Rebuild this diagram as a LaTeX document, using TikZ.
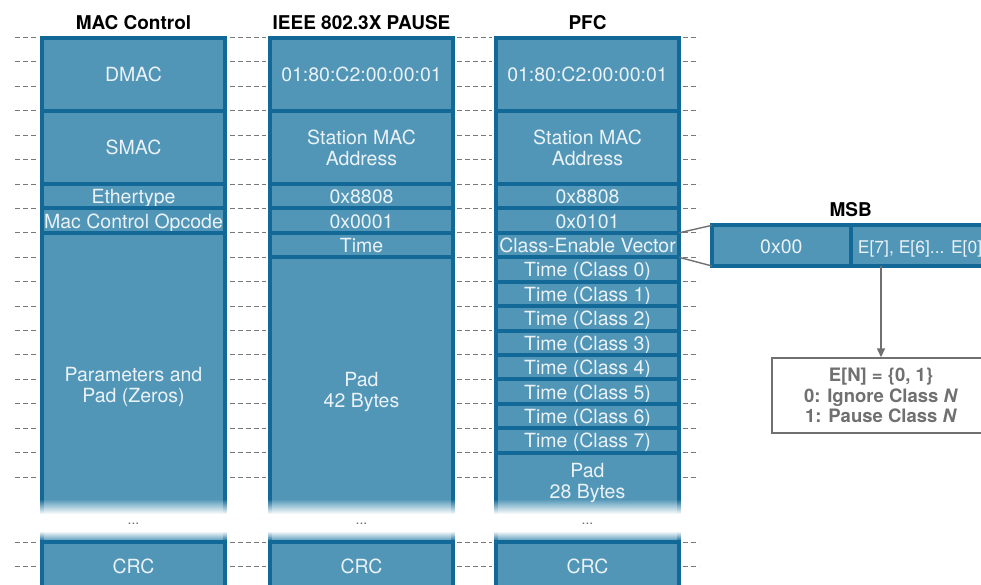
\documentclass[tikz,border=0pt]{standalone}
\usepackage{fontspec}
\setmainfont{TeX Gyre Heros}
\usetikzlibrary{positioning, arrows.meta, fadings}

\definecolor{fieldfill}{RGB}{81,150,183}
\definecolor{fieldline}{RGB}{18,104,150}
\definecolor{fieldtext}{RGB}{234,242,247}
\definecolor{gridgray}{RGB}{120,120,120}
\definecolor{notegray}{RGB}{112,112,112}

\tikzfading[name=fadein, top color=transparent!100, bottom color=transparent!0]
\tikzfading[name=fadeout, top color=transparent!0, bottom color=transparent!100]

\tikzset{
    cell/.style={draw=fieldline, fill=fieldfill, line width=4pt, text=fieldtext,
        minimum width=183pt, inner sep=0pt, outer sep=0pt, align=center,
        font=\fontsize{19.5}{21}\selectfont},
    field/.style={cell, text height=15pt, text depth=0pt},
    span/.style={minimum height=#1*24.42pt},
    cellnote/.style={text=fieldtext, inner sep=0pt, align=center,
        font=\fontsize{19.5}{21}\selectfont},
    coltitle/.style={inner sep=0pt, outer sep=0pt, font=\fontsize{19}{21}\selectfont\bfseries},
    gridline/.style={draw=gridgray, line width=1pt, dash pattern=on 5pt off 3pt},
    gap/.style={text=notegray, inner sep=0pt, font=\fontsize{14}{16}\selectfont},
    conn/.style={draw=notegray, line width=1.4pt},
    notebox/.style={draw=notegray, line width=1.4pt, fill=white, text=notegray, align=center,
        minimum width=218pt, minimum height=75pt, inner sep=0pt,
        font=\fontsize{18.5}{20.5}\selectfont\bfseries},
}

% one row of the dashed grid
\newcommand{\GridRow}[1]{%
    \draw[gridline] (15,#1) -- (38,#1);
    \draw[gridline] (230,#1) -- (266,#1);
    \draw[gridline] (457,#1) -- (492,#1);
    \draw[gridline] (683,#1) -- (699,#1);
}

\begin{document}
\begin{tikzpicture}[x=1pt, y=-1pt]
    \useasboundingbox (0,0) rectangle (981,584);
    \clip (0,0) rectangle (981,584);

    % Grid rows
    \foreach \n in {0,...,18} {
        \pgfmathsetmacro\yy{floor(37.5+\n*24.42)+0.5}
        \GridRow{\yy}
    }
    \GridRow{542.5}
    \GridRow{566.5}

    % MAC Control
    \node[field, span=3, anchor=north west] (dmacA) at (42,37.5) {DMAC};
    \node[field, span=3, below=0pt of dmacA] (smacA) {SMAC};
    \node[field, span=1, below=0pt of smacA] (ethA) {Ethertype};
    \node[field, span=1, below=0pt of ethA] (opA) {Mac Control Opcode};
    \node[field, minimum height=309.1pt, below=0pt of opA] (padA) {};
    \node[cellnote, below=134pt of padA.north] (padtxtA) {Parameters and\\Pad (Zeros)};

    % IEEE 802.3X PAUSE
    \node[field, span=3, anchor=north west] (dmacB) at (270,37.5) {01:80:C2:00:00:01};
    \node[cell, span=3, below=0pt of dmacB] (smacB) {Station MAC\\Address};
    \node[field, span=1, below=0pt of smacB] (ethB) {0x8808};
    \node[field, span=1, below=0pt of ethB] (opB) {0x0001};
    \node[field, span=1, below=0pt of opB] (timeB) {Time};
    \node[field, minimum height=284.7pt, below=0pt of timeB] (padB) {};
    \node[cellnote, below=115pt of padB.north] (padtxtB) {Pad\\42 Bytes};

    % PFC
    \node[field, span=3, anchor=north west] (dmacC) at (496,37.5) {01:80:C2:00:00:01};
    \node[cell, span=3, below=0pt of dmacC] (smacC) {Station MAC\\Address};
    \node[field, span=1, below=0pt of smacC] (ethC) {0x8808};
    \node[field, span=1, below=0pt of ethC] (opC) {0x0101};
    \node[field, span=1, below=0pt of opC] (cevC) {Class-Enable Vector};
    \foreach \k in {0,...,7}
        \node[field, span=1, anchor=north west] (timeC\k) at (496,{37.5+(9+\k)*24.42}) {Time (Class \k)};
    \node[field, minimum height=89.36pt, below=0pt of timeC7] (padC) {};
    \node[cellnote, below=10.5pt of padC.north] (padtxtC) {Pad\\28 Bytes};

    % fade out the long fields
    \foreach \xl in {42,270,496} {
        \fill[white, path fading=fadein] (\xl-3,499) rectangle (\xl+186,514);
        \fill[white] (\xl-3,514) rectangle (\xl+186,531);
        \fill[white, path fading=fadeout] (\xl-3,531) rectangle (\xl+186,541);
    }
    \node[gap] (gapA) at (133.5,524) {...};
    \node[gap] (gapB) at (361.5,524) {...};
    \node[gap] (gapC) at (587.5,524) {...};

    \node[field, span=2, below=0pt of padA] (crcA) {CRC};
    \node[field, span=2, below=0pt of padB] (crcB) {CRC};
    \node[field, span=2, below=0pt of padC] (crcC) {CRC};

    % Titles
    \node[coltitle, above=8pt of dmacA] (titleA) {MAC Control};
    \node[coltitle, above=8pt of dmacB] (titleB) {IEEE 802.3X PAUSE};
    \node[coltitle, above=8pt of dmacC] (titleC) {PFC};

    % Class-Enable Vector detail
    \node[field, minimum width=138.7pt, minimum height=40.7pt, anchor=north west] (msbLo) at (712,225.3) {0x00};
    \node[field, minimum width=138.7pt, minimum height=40.7pt, right=0pt of msbLo,
        font=\fontsize{17.5}{20}\selectfont] (msbHi) {E[7], E[6]... E[0]};
    \node[coltitle, above=9pt of msbLo.north east] (msbtitle) {MSB};

    \draw[conn] (cevC.north east) -- (msbLo.north west);
    \draw[conn] (cevC.south east) -- (msbLo.south west);

    \node[notebox] (note) at (881,395.5) {E[N] = \{0, 1\}\\0: Ignore Class \textit{N}\\1: Pause Class \textit{N}};
    \draw[conn, -{Triangle[length=9pt, width=8pt]}] (msbHi.south -| note.north) -- (note.north);
\end{tikzpicture}
\end{document}
